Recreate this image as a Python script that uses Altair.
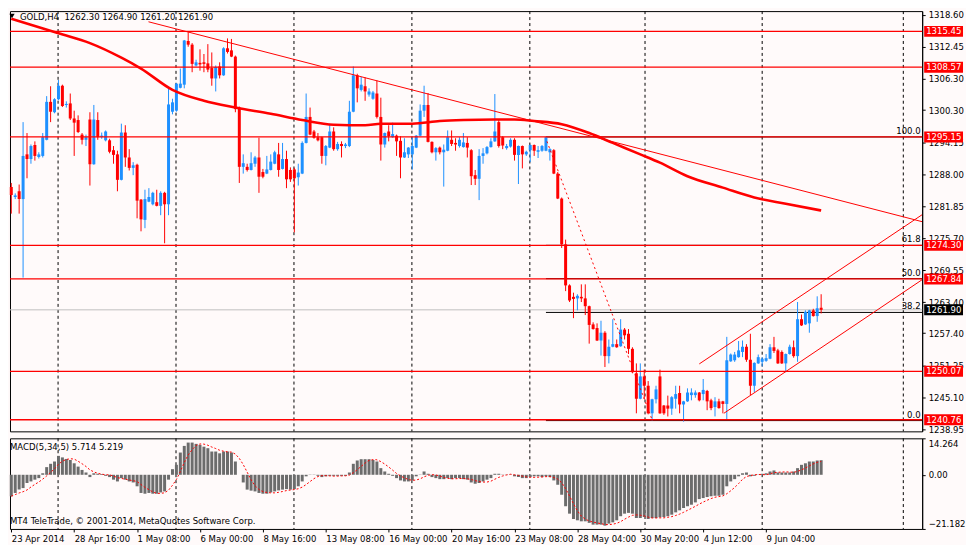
import altair as alt
import pandas as pd

# ---------------- data ----------------
BAR_OPEN = [1285.5,1283.6,1284.7,1283.2,1291.8,1290.9,1293.6,1291.3,1291.5,1294.6,
 1301.9,1299.9,1302.4,1305.0,1301.3,1301.6,1298.7,1298.4,1295.6,1294.6,
 1298.5,1289.9,1298.4,1295.1,1294.5,1294.5,1292.6,1291.8,1286.9,1296.0,
 1291.2,1289.2,1289.8,1283.1,1279.2,1282.7,1282.2,1282.6,1281.9,1284.4,
 1282.2,1300.0,1300.2,1304.6,1305.2,1313.6,1312.9,1308.9,1309.4,1309.5,
 1309.3,1308.4,1306.4,1308.7,1307.0,1312.2,1311.8,1310.6,1300.8,1289.4,
 1289.4,1288.8,1290.0,1291.2,1288.4,1288.1,1288.8,1290.0,1291.8,1289.0,
 1290.9,1288.8,1288.9,1287.4,1288.1,1294.0,1299.0,1296.2,1295.1,1295.1,
 1291.5,1293.1,1296.2,1292.8,1293.8,1293.4,1293.4,1300.0,1307.0,1304.2,
 1304.9,1303.3,1302.5,1303.5,1299.0,1293.7,1296.2,1295.1,1295.4,1294.4,
 1291.2,1291.8,1291.8,1293.1,1295.4,1300.2,1301.3,1294.2,1292.2,1293.1,
 1292.2,1292.5,1294.6,1294.0,1293.4,1293.2,1294.0,1292.6,1287.8,1287.1,
 1291.5,1292.0,1293.2,1294.3,1298.0,1295.1,1293.0,1293.3,1294.6,1291.7,
 1293.4,1291.8,1292.6,1293.6,1292.3,1292.5,1292.5,1292.2,1292.6,1288.1,
 1283.3,1274.5,1266.6,1264.4,1264.1,1264.4,1264.1,1262.6,1259.1,1258.4,
 1256.0,1257.5,1253.0,1254.8,1255.3,1254.9,1258.1,1257.3,1254.4,1249.7,
 1244.8,1249.1,1247.3,1242.0,1244.7,1249.1,1243.5,1243.5,1242.9,1244.8,
 1245.9,1243.7,1244.3,1245.5,1245.5,1246.0,1245.7,1246.3,1244.5,1243.2,
 1244.3,1244.3,1243.8,1252.0,1252.2,1252.8,1253.8,1254.8,1252.3,1247.3,
 1251.6,1251.9,1252.1,1252.5,1254.7,1254.1,1253.8,1251.6,1253.4,1254.7,
 1253.0,1260.1,1259.1,1259.3,1261.8,1260.7,1262.3]
BAR_HIGH = [1286.3,1284.3,1286.0,1298.0,1295.9,1293.7,1294.3,1292.2,1295.9,1303.0,
 1304.9,1302.6,1306.1,1305.2,1302.0,1303.5,1300.2,1299.3,1295.9,1295.6,
 1299.9,1301.3,1299.9,1296.0,1296.4,1294.8,1293.4,1292.5,1297.7,1297.4,
 1292.8,1290.3,1290.0,1283.2,1285.0,1285.3,1284.6,1285.0,1284.7,1284.6,
 1304.5,1302.5,1305.5,1308.3,1313.8,1315.3,1313.2,1310.0,1312.0,1311.1,
 1313.0,1311.4,1308.9,1309.5,1312.4,1314.1,1314.0,1310.8,1301.0,1291.8,
 1290.0,1292.2,1291.5,1295.0,1289.0,1291.5,1291.8,1292.5,1294.0,1294.0,
 1292.5,1289.3,1289.2,1290.0,1294.3,1303.5,1300.8,1296.5,1295.9,1295.2,
 1293.6,1297.7,1297.0,1294.2,1294.3,1294.0,1302.1,1308.7,1307.3,1306.7,
 1306.6,1304.5,1304.0,1306.0,1302.7,1296.0,1297.4,1297.9,1295.6,1295.3,
 1294.9,1293.2,1295.2,1295.5,1301.4,1305.0,1303.6,1294.3,1293.2,1293.3,
 1293.7,1296.4,1296.4,1294.9,1295.1,1295.9,1295.1,1292.8,1288.8,1292.8,
 1293.0,1293.4,1294.9,1303.4,1298.6,1295.3,1293.8,1294.9,1294.9,1293.5,
 1293.5,1292.5,1293.7,1293.7,1293.4,1293.6,1295.2,1293.0,1292.8,1288.4,
 1283.5,1275.4,1266.8,1265.2,1264.9,1266.8,1266.8,1262.7,1259.5,1259.3,
 1259.8,1257.8,1256.2,1260.1,1256.2,1260.1,1258.4,1258.2,1254.7,1251.6,
 1251.6,1250.4,1248.2,1244.8,1247.3,1250.4,1243.6,1245.4,1245.3,1247.3,
 1247.3,1244.4,1246.8,1246.8,1246.4,1246.1,1248.6,1246.5,1244.8,1245.1,
 1244.8,1244.4,1256.7,1253.5,1253.8,1255.9,1256.0,1255.3,1257.3,1251.8,
 1253.3,1252.8,1253.4,1255.3,1256.7,1254.4,1254.1,1253.5,1255.2,1256.0,
 1263.4,1261.0,1261.8,1261.9,1262.1,1264.5,1264.9]
BAR_LOW = [1280.4,1283.2,1280.4,1268.1,1287.2,1290.0,1290.6,1291.0,1291.2,1294.5,
 1298.0,1299.7,1302.2,1300.9,1300.8,1298.4,1291.5,1295.9,1293.7,1293.4,
 1285.8,1289.8,1294.6,1294.8,1294.3,1292.0,1290.0,1284.7,1286.8,1289.4,
 1288.7,1287.8,1279.5,1277.0,1277.6,1282.6,1282.0,1281.8,1280.1,1274.7,
 1280.1,1299.5,1300.0,1304.5,1304.5,1312.5,1307.6,1308.7,1307.9,1307.6,
 1307.6,1305.0,1303.9,1306.4,1306.9,1311.2,1310.5,1299.9,1286.3,1288.1,
 1288.5,1288.7,1289.4,1284.4,1287.2,1288.0,1288.7,1289.9,1287.5,1288.9,
 1285.3,1286.5,1276.8,1285.8,1288.0,1293.9,1295.5,1294.8,1294.3,1290.0,
 1289.7,1293.0,1292.5,1292.5,1291.2,1293.0,1293.2,1299.9,1301.8,1303.9,
 1302.1,1302.9,1302.3,1298.7,1290.6,1293.1,1294.3,1295.0,1291.5,1287.2,
 1291.1,1291.1,1288.9,1293.0,1295.3,1299.0,1294.1,1292.0,1290.6,1291.8,
 1285.6,1292.4,1293.4,1292.5,1293.1,1293.1,1291.2,1285.9,1285.9,1283.0,
 1290.0,1291.8,1293.1,1294.2,1293.1,1292.8,1292.7,1293.1,1290.6,1286.1,
 1289.1,1291.5,1290.3,1291.5,1291.1,1292.3,1292.4,1290.6,1288.0,1283.2,
 1273.8,1265.5,1263.4,1260.3,1261.8,1263.4,1260.9,1255.4,1258.1,1255.9,
 1253.1,1250.9,1251.6,1254.7,1254.6,1254.8,1256.2,1253.4,1249.7,1242.0,
 1244.7,1244.8,1241.8,1240.6,1243.9,1241.9,1241.7,1241.4,1241.7,1242.9,
 1242.0,1240.4,1244.2,1244.5,1245.0,1244.3,1244.5,1242.6,1242.6,1241.4,
 1242.9,1242.0,1240.8,1251.9,1251.9,1252.7,1252.8,1251.9,1245.5,1246.1,
 1251.5,1251.0,1251.9,1252.4,1253.6,1251.5,1251.5,1249.9,1253.3,1252.7,
 1251.9,1258.8,1259.0,1257.5,1260.6,1259.6,1261.2]
BAR_CLOSE = [1284.0,1283.9,1283.2,1291.5,1290.9,1293.4,1291.5,1291.8,1295.1,1301.9,
 1300.0,1302.4,1305.0,1301.1,1301.5,1298.7,1297.9,1296.1,1294.6,1295.1,
 1289.9,1298.5,1295.1,1295.4,1296.2,1292.3,1291.7,1286.9,1296.0,1291.2,
 1289.2,1289.7,1282.9,1279.3,1283.2,1283.6,1284.4,1281.9,1284.4,1282.2,
 1301.4,1301.8,1305.4,1305.4,1313.7,1312.9,1309.2,1309.5,1309.1,1309.2,
 1308.1,1306.4,1308.6,1307.0,1312.2,1311.5,1310.6,1300.5,1289.4,1290.1,
 1288.8,1290.1,1291.2,1287.5,1287.5,1288.9,1290.4,1292.2,1288.8,1290.9,
 1287.0,1287.0,1287.2,1288.3,1294.0,1299.0,1295.6,1295.0,1294.5,1291.5,
 1293.4,1296.2,1292.8,1293.8,1293.4,1293.7,1300.0,1307.0,1304.5,1305.2,
 1303.9,1303.9,1303.7,1299.0,1293.7,1295.9,1295.3,1295.7,1294.3,1291.2,
 1292.2,1293.1,1293.4,1295.4,1300.2,1301.3,1294.2,1292.2,1293.0,1292.2,
 1292.7,1295.1,1293.8,1293.7,1294.6,1294.1,1293.1,1287.6,1287.1,1291.5,
 1292.0,1293.2,1294.3,1296.2,1293.4,1293.5,1293.4,1294.6,1291.7,1293.4,
 1291.8,1292.3,1293.6,1292.5,1292.6,1293.4,1295.1,1292.8,1288.1,1283.3,
 1274.5,1266.6,1263.7,1264.0,1264.6,1264.1,1262.6,1259.0,1258.2,1256.0,
 1257.5,1253.0,1254.8,1255.3,1254.7,1258.1,1257.0,1254.4,1249.9,1244.8,
 1249.1,1247.3,1242.0,1244.7,1246.6,1242.0,1242.0,1242.9,1245.1,1245.7,
 1243.7,1244.3,1246.0,1246.0,1246.0,1244.5,1246.5,1244.3,1243.0,1244.3,
 1243.0,1243.8,1252.2,1253.3,1253.3,1254.1,1254.8,1252.3,1247.3,1251.7,
 1252.8,1252.5,1252.6,1254.7,1254.0,1251.6,1251.6,1253.4,1254.8,1253.0,
 1260.1,1258.9,1261.5,1261.8,1260.7,1262.2,1261.9]
MACD_HIST = [-8.4,-7.1,-5.8,-5.2,-3.2,-2.6,-1.9,-1.3,0.6,3.0,
 4.3,5.2,7.4,6.8,6.2,5.8,4.5,3.2,1.9,0.9,
 -0.9,0.6,0.4,0.3,-0.4,-0.9,-1.9,-2.6,-1.3,-1.9,
 -2.6,-3.0,-4.5,-7.1,-7.4,-7.1,-7.4,-7.4,-6.9,-6.5,
 -1.9,2.2,3.9,8.7,11.3,12.6,12.6,12.1,11.7,11.0,
 10.4,9.1,9.1,8.4,9.1,9.1,8.7,5.2,0.0,-3.0,
 -5.8,-6.2,-6.5,-7.1,-7.4,-7.4,-6.9,-6.5,-6.1,-5.8,
 -5.6,-5.8,-5.6,-4.5,-2.6,-0.6,0.1,0.1,-0.4,-0.9,
 -0.6,-0.4,-0.4,-0.4,-0.4,-0.4,0.9,4.3,5.6,6.1,
 6.1,6.1,5.8,5.2,2.6,1.3,0.4,-0.4,-1.3,-2.2,
 -2.6,-2.6,-2.2,-0.6,0.1,1.3,0.4,-0.9,-1.3,-1.7,
 -1.7,-1.3,-1.7,-1.3,-1.3,-1.7,-1.9,-3.0,-3.5,-3.2,
 -2.6,-1.9,-1.3,0.4,0.4,0.1,0.1,0.1,-0.6,-0.9,
 -1.3,-1.3,-0.9,-0.6,-0.6,-0.9,-0.6,-0.9,-2.2,-3.9,
 -7.8,-12.3,-15.2,-17.3,-17.8,-18.2,-18.2,-18.8,-19.5,-19.5,
 -19.5,-19.9,-19.1,-18.6,-17.8,-16.2,-15.2,-14.9,-15.2,-16.9,
 -16.9,-16.5,-17.3,-16.9,-16.9,-16.6,-16.5,-16.2,-15.6,-14.7,
 -13.9,-13.0,-12.3,-11.7,-10.8,-9.5,-9.1,-8.7,-8.4,-8.2,
 -8.2,-7.8,-4.5,-2.6,-1.7,-0.6,0.6,0.9,-0.6,-0.4,
 0.1,0.4,0.6,1.3,1.7,0.9,0.9,0.9,0.9,1.3,
 2.6,3.9,4.5,5.2,5.2,5.6,5.714]

MA_BAR = [0, 12, 20, 28, 33, 41, 49, 57, 66, 74, 82, 90, 94, 102, 109, 115, 123, 128,
          133, 140, 147, 153, 160, 165, 172, 181, 189, 197, 206]
MA_VAL = [1317.9, 1315.1, 1313.2, 1310.4, 1308.3, 1304.2, 1302.1, 1300.8, 1299.6, 1298.4,
          1297.5, 1297.4, 1297.7, 1297.7, 1298.2, 1298.4, 1298.5, 1298.5, 1298.2, 1297.6,
          1295.9, 1294.0, 1291.8, 1290.2, 1287.6, 1285.4, 1283.5, 1282.3, 1281.0]

LEVELS = [1315.45, 1308.57, 1295.15, 1274.30, 1267.84, 1250.07, 1240.76]
CURRENT = 1261.90
FIB_PRICES = [1240.6, 1261.4, 1267.9, 1274.3, 1295.15]
FIB_LABELS = ["0.0", "38.2", "50.0", "61.8", "100.0"]
FIB_START = 136.0

TREND_BARS = [34.9, 231.7]
TREND_PRICES = [1317.3, 1278.85]
CHAN_UP_BARS = [175.0, 231.7]
CHAN_UP_PRICES = [1251.5, 1280.2]
CHAN_LO_BARS = [181.25, 231.7]
CHAN_LO_PRICES = [1242.0, 1267.7]
FIBLINE_BARS = [136.25, 163.0]
FIBLINE_PRICES = [1294.3, 1240.76]

GRID_BARS = [11.9, 41.9, 71.9, 101.9, 131.9, 161.2, 191.0, 226.9]
PRICE_TICKS = [1318.60, 1312.45, 1306.30, 1300.30, 1294.15, 1288.00, 1281.85,
               1275.70, 1269.55, 1263.40, 1257.40, 1251.25, 1245.10, 1238.95]
TIME_TICKS = [0, 16, 32, 48, 64, 80, 96, 112, 128, 144, 160, 176, 192]
TIME_LABELS = ["23 Apr 2014", "28 Apr 16:00", "1 May 08:00", "6 May 00:00",
               "8 May 16:00", "13 May 08:00", "16 May 00:00", "20 May 16:00",
               "23 May 08:00", "28 May 04:00", "30 May 20:00", "4 Jun 12:00",
               "9 Jun 04:00"]
MACD_TICKS = [-21.182, 0.0, 14.264]

HEADER = "GOLD,H4\u00a0\u00a01262.30 1264.90 1261.20 1261.90"
MACD_HEADER = "MACD(5,34,5) 5.714 5.219"
COPYRIGHT = "MT4 TeleTrade, \u00a9 2001-2014, MetaQuotes Software Corp."

# ---------------- styling ----------------
FONT = "DejaVu Sans Condensed, Liberation Sans, Arial, sans-serif"
FS = 9.5
BG = "#FFFAFA"
RED = "#FF0000"
BLUE = "#1E90FF"
W = 916
H_MAIN = 422
H_MACD = 91

bars = pd.DataFrame({"i": list(range(len(BAR_OPEN))), "o": BAR_OPEN, "h": BAR_HIGH,
                     "l": BAR_LOW, "c": BAR_CLOSE, "m": MACD_HIST})
ma_df = pd.DataFrame({"i": MA_BAR, "v": MA_VAL})
grid_df = pd.DataFrame({"g": GRID_BARS})
lev_df = pd.DataFrame({"p": LEVELS, "lab": [f"{v:.2f}" for v in LEVELS], "col": RED})
cur_df = pd.DataFrame({"p": [CURRENT], "lab": [f"{CURRENT:.2f}"], "col": ["#000000"]})
box_df = pd.concat([lev_df, cur_df], ignore_index=True)
fib_df = pd.DataFrame({"p": FIB_PRICES, "lab": FIB_LABELS,
                       "x0": [FIB_START] * len(FIB_PRICES), "x1": [231.7] * len(FIB_PRICES),
                       "xt": [231.3] * len(FIB_PRICES)})
trend_df = pd.DataFrame({
    "k": ["t", "t", "u", "u", "d", "d"],
    "i": TREND_BARS + CHAN_UP_BARS + CHAN_LO_BARS,
    "p": TREND_PRICES + CHAN_UP_PRICES + CHAN_LO_PRICES})
fibline_df = pd.DataFrame({"i": FIBLINE_BARS, "p": FIBLINE_PRICES})
one = pd.DataFrame({"a": [0]})

xs = alt.Scale(domain=[-0.33, 231.7], nice=False, zero=False, padding=0)
ys = alt.Scale(domain=[1238.53, 1319.35], nice=False, zero=False, padding=0)
ms = alt.Scale(domain=[-21.182, 14.264], nice=False, zero=False, padding=0)

price_axis = alt.Axis(orient="right", values=PRICE_TICKS, format=".2f", title=None,
                      grid=False, tickSize=3, labelPadding=3, domain=True,
                      domainColor="black", tickColor="black", labelColor="black",
                      labelFont=FONT, labelFontSize=FS, labelOverlap=False)

label_expr = "[" + ",".join("'%s'" % s for s in TIME_LABELS) + "][round(datum.value/16)]"
time_axis = alt.Axis(values=TIME_TICKS, labelExpr=label_expr, labelAlign="left", labelFlush=False,
                     labelOverlap=False, grid=False, tickSize=3, domain=False, title=None,
                     labelPadding=2, labelFont=FONT, labelFontSize=FS, labelColor="black",
                     tickColor="black", labelBound=False)
macd_axis = alt.Axis(orient="right", values=MACD_TICKS,
                     labelExpr="datum.value == 0 ? '0.00' : format(datum.value, '.3f')",
                     labelFlush=True, labelFlushOffset=0, title=None, grid=False, tickSize=3,
                     labelPadding=3, domain=True, domainColor="black", tickColor="black",
                     labelColor="black", labelFont=FONT, labelFontSize=FS, labelOverlap=False)

# main pane: x has no axis; y carries the price axis in every layer
X = lambda f: alt.X(f, scale=xs, axis=None)
Y = lambda f: alt.Y(f, scale=ys, axis=price_axis)
# macd pane: x carries the time axis, y the macd axis in every layer
XM = lambda f: alt.X(f, scale=xs, axis=time_axis)
YM = lambda f: alt.Y(f, scale=ms, axis=macd_axis)

candle_color = alt.condition("datum.c >= datum.o", alt.value(BLUE), alt.value(RED))

grid_main = alt.Chart(grid_df).mark_rule(color="black", strokeDash=[3, 3], strokeWidth=1).encode(x=X("g:Q"))
cur_line = alt.Chart(cur_df).mark_rule(color="#C0C0C0", strokeWidth=1).encode(y=Y("p:Q"))
fib_lines = alt.Chart(fib_df).mark_rule(color="black", strokeWidth=1).encode(
    x=X("x0:Q"), x2="x1:Q", y=Y("p:Q"))
fib_text = alt.Chart(fib_df).mark_text(align="right", baseline="bottom", dy=-1, font=FONT,
                                        fontSize=FS, color="black").encode(
    x=X("xt:Q"), y=Y("p:Q"), text="lab:N")
wicks = alt.Chart(bars).mark_rule(strokeWidth=1).encode(
    x=X("i:Q"), y=Y("l:Q"), y2="h:Q", color=candle_color)
bodies = alt.Chart(bars).mark_bar(size=3).encode(
    x=X("i:Q"), y=Y("o:Q"), y2="c:Q", color=candle_color)
ma_line = alt.Chart(ma_df).mark_line(color=RED, strokeWidth=2.6, interpolate="monotone", clip=True).encode(
    x=X("i:Q"), y=Y("v:Q"))
trends = alt.Chart(trend_df).mark_line(color=RED, strokeWidth=1, clip=True).encode(
    x=X("i:Q"), y=Y("p:Q"), detail="k:N")
fibline = alt.Chart(fibline_df).mark_line(color=RED, strokeWidth=1, strokeDash=[2, 3], clip=True).encode(
    x=X("i:Q"), y=Y("p:Q"))
levels = alt.Chart(lev_df).mark_rule(color=RED, strokeWidth=1.3).encode(y=Y("p:Q"))
boxes = alt.Chart(box_df).mark_tick(orient="horizontal", size=39, thickness=11, opacity=1).encode(
    y=Y("p:Q"), x=alt.value(W + 21.5), color=alt.Color("col:N", scale=None))
box_text = alt.Chart(box_df).mark_text(align="left", baseline="middle", font=FONT, fontSize=FS,
                                        color="white").encode(
    y=Y("p:Q"), x=alt.value(W + 4), text="lab:N")
header = alt.Chart(one).mark_text(align="left", baseline="top", font=FONT, fontSize=FS,
                                  color="black").encode(
    x=alt.value(10), y=alt.value(1), text=alt.value(HEADER))
tri = alt.Chart(one).mark_point(shape="triangle-down", filled=True, color="black", size=28, opacity=1).encode(
    x=alt.value(2), y=alt.value(5))

main = alt.layer(grid_main, cur_line, fib_lines, fib_text, wicks, bodies, ma_line, trends,
                 fibline, levels, boxes, box_text, header, tri).properties(width=W, height=H_MAIN)

grid_macd = alt.Chart(grid_df).mark_rule(color="black", strokeDash=[3, 3], strokeWidth=1).encode(
    x=XM("g:Q"))
hist = alt.Chart(bars).mark_bar(size=3, color="#6C6C6C").encode(
    x=XM("i:Q"), y=YM("m:Q"), y2=alt.datum(0))
signal = alt.Chart(bars).transform_window(
    sig="mean(m)", frame=[-4, 0], sort=[{"field": "i"}]
).mark_line(color=RED, strokeDash=[2, 2], strokeWidth=1).encode(
    x=XM("i:Q"), y=YM("sig:Q"))
macd_head = alt.Chart(one).mark_text(align="left", baseline="middle", font=FONT, fontSize=FS,
                                     color="black").encode(
    x=alt.value(0), y=alt.value(9), text=alt.value(MACD_HEADER))
copy_txt = alt.Chart(one).mark_text(align="left", baseline="middle", font=FONT, fontSize=FS,
                                    color="black").encode(
    x=alt.value(0), y=alt.value(83), text=alt.value(COPYRIGHT))

macd = alt.layer(grid_macd, hist, signal, macd_head, copy_txt).properties(width=W, height=H_MACD)

chart = alt.vconcat(main, macd, spacing=3).properties(
    padding=0, background=BG
).configure_view(stroke="black", strokeWidth=1, fill=BG)

chart.save("out.html", embed_options={"renderer": "svg", "actions": False})
